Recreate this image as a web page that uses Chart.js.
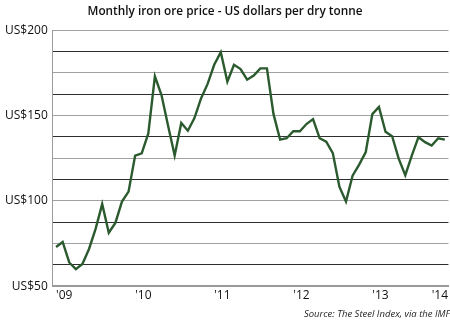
<!DOCTYPE html>
<html>
<head>
<meta charset="utf-8">
<script src="https://cdn.jsdelivr.net/npm/chart.js@4"></script>
<style>
  html, body { margin: 0; padding: 0; background: #fff; overflow: hidden; }
  #wrap { width: 450px; height: 322px; }
</style>
</head>
<body>
<div id="wrap"><canvas id="oreChart" width="450" height="322"></canvas></div>
<script>
// Monthly prices, US$ per dry tonne (Jan..Dec)
const prices2009 = [73, 75.9, 63.9, 60, 63, 71.8, 83.6, 98.1, 81.3, 87.1, 99.6, 105.4];
const prices2010 = [126.5, 127.8, 139.5, 173, 162, 144, 126.6, 145.6, 141.1, 148.5, 160, 168.5];
const prices2011 = [179.7, 187.1, 169.8, 179.7, 177.2, 171, 173.4, 177.6, 177.6, 150.8, 135.9, 136.7];
const prices2012 = [140.8, 140.8, 145, 147.9, 136.7, 134.7, 128, 108.3, 99.6, 114.7, 121.2, 128.6];
const prices2013 = [150.8, 155, 140.5, 137.9, 124.7, 115, 126.6, 137.3, 134.4, 132.4, 136.7, 135.9];

const years = ['2009', '2010', '2011', '2012', '2013'];
const monthNames = ['Jan', 'Feb', 'Mar', 'Apr', 'May', 'Jun', 'Jul', 'Aug', 'Sep', 'Oct', 'Nov', 'Dec'];
const yearLabels = ["'09", "'10", "'11", "'12", "'13", "'14"];
const yTickLabels = { 50: 'US$50', 100: 'US$100', 150: 'US$150', 200: 'US$200' };

const titleText = 'Monthly iron ore price - US dollars per dry tonne';
const sourceText = 'Source: The Steel Index, via the IMF';

const prices = [].concat(prices2009, prices2010, prices2011, prices2012, prices2013);
const months = [];
years.forEach(y => monthNames.forEach(m => months.push(m + ' ' + y)));
const points = prices.map((v, i) => ({ x: i, y: v }));

const fontFamily = '"Open Sans", "Noto Sans", sans-serif';

new Chart(document.getElementById('oreChart'), {
  type: 'line',
  data: {
    datasets: [
      {
        label: 'Iron ore',
        data: points,
        borderColor: '#2b5a2e',
        borderWidth: 2.4,
        pointRadius: 0,
        tension: 0,
        fill: false,
      },
    ],
  },
  options: {
    responsive: false,
    animation: false,
    layout: { padding: { left: 0, right: 0, top: 0, bottom: 0 } },
    plugins: {
      legend: { display: false },
      tooltip: { enabled: false },
      title: {
        display: true,
        text: titleText,
        color: '#111',
        font: { family: fontFamily, size: 11.8, weight: '600' },
        padding: { top: 5, bottom: 11 },
      },
      subtitle: {
        display: true,
        text: sourceText,
        position: 'bottom',
        align: 'end',
        color: '#222',
        font: { family: fontFamily, size: 9.5, style: 'italic' },
        padding: { top: 4, bottom: 2 },
      },
    },
    scales: {
      x: {
        type: 'linear',
        min: -0.5,
        max: 59.55,
        grid: { display: false, drawTicks: false },
        border: { display: true, color: '#9a9a9a', width: 2 },
        afterBuildTicks: axis => {
          // last label is pulled in so it fits inside the frame
          axis.ticks = yearLabels.map((l, k) => ({ value: Math.min(k * 12, axis.max - 2.55) }));
        },
        ticks: {
          autoSkip: false,
          align: 'start',
          padding: 2,
          color: '#111',
          font: { family: fontFamily, size: 12 },
          callback: (v, i) => yearLabels[i],
        },
      },
      y: {
        min: 50,
        max: 200,
        grid: {
          drawTicks: false,
          color: c => (Math.round((c.tick.value - 50) / 12.5) % 2 ? '#2e2e2e' : '#a0a0a0'),
          lineWidth: 1,
        },
        border: { display: true, color: '#9a9a9a', width: 1 },
        ticks: {
          stepSize: 12.5,
          padding: 5,
          color: '#111',
          font: { family: fontFamily, size: 12 },
          callback: v => yTickLabels[v] || '',
        },
      },
    },
  },
});
</script>
</body>
</html>
